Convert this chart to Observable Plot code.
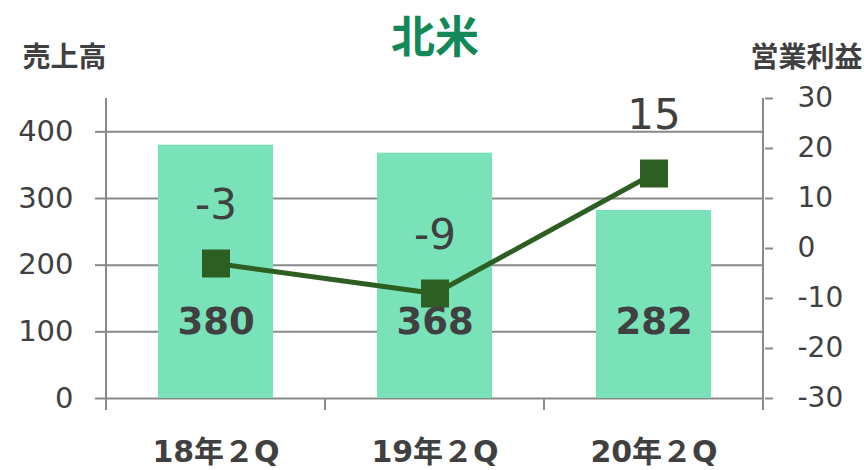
<!DOCTYPE html>
<html><head><meta charset="utf-8">
<script src="https://cdn.jsdelivr.net/npm/d3@7"></script>
<script src="https://cdn.jsdelivr.net/npm/@observablehq/plot@0.6"></script>
<style>body{margin:0;background:#fff}</style>
</head><body><div id="chart"></div>
<script>
const categories = ["18年２Q", "19年２Q", "20年２Q"];
const sales = [380, 368, 282];
const profit = [-3, -9, 15];
const leftTicks = [0, 100, 200, 300, 400];
const rightTicks = [-30, -20, -10, 0, 10, 20, 30];
const title = "北米";
const leftTitle = "売上高";
const rightTitle = "営業利益";

const L_MAX = 450, R_MIN = -30, R_MAX = 30;
const toLeft = v => (v - R_MIN) / (R_MAX - R_MIN) * L_MAX;
const fromLeft = v => Math.round(v / L_MAX * (R_MAX - R_MIN) + R_MIN);

const data = categories.map((c, i) => ({cat: c, sales: sales[i], profit: profit[i], py: toLeft(profit[i])}));

const AX = "#898989", TXT = "#404040", NUMFONT = "DejaVu Sans, Verdana, sans-serif";
const CJK = "'Noto Sans CJK JP', 'Noto Sans', sans-serif";

function axisLines(index, scales, values, dim) {
  const g = d3.create("svg:g").attr("stroke", AX).attr("stroke-width", 2);
  const x = scales.x;
  const xs = categories.map(c => x(c));
  const step = xs[1] - xs[0];
  const bounds = [...xs, xs[xs.length - 1] + step];
  const top = dim.marginTop, bottom = dim.height - dim.marginBottom;
  g.append("line").attr("x1", bounds[0]).attr("x2", bounds[0]).attr("y1", top).attr("y2", bottom);
  g.append("line").attr("x1", bounds[3]).attr("x2", bounds[3]).attr("y1", top).attr("y2", bottom);
  for (const b of bounds) g.append("line").attr("x1", b).attr("x2", b).attr("y1", bottom).attr("y2", bottom + 12);
  return g.node();
}

const chart = Plot.plot({
  width: 868, height: 470,
  marginTop: 98, marginBottom: 72, marginLeft: 105, marginRight: 104,
  style: {fontFamily: NUMFONT, background: "#fff"},
  x: {type: "band", domain: categories, padding: 0},
  y: {domain: [0, L_MAX]},
  marks: [
    Plot.gridY(leftTicks, {stroke: AX, strokeOpacity: 1, strokeWidth: 2}),
    Plot.barY(data, {x: "cat", y: "sales", fill: "#79e2b8", insetLeft: 52, insetRight: 52}),
    Plot.axisY({ticks: leftTicks, anchor: "left", tickSize: 10, tickPadding: 22, stroke: AX, strokeWidth: 2, fill: TXT, fontSize: 29, fontFamily: NUMFONT, label: null}),
    Plot.axisY({ticks: rightTicks.map(toLeft), tickFormat: fromLeft, anchor: "right", tickSize: 8, tickPadding: 25, stroke: AX, strokeWidth: 2, fill: TXT, fontSize: 28, fontFamily: NUMFONT, label: null}),
    Plot.axisX({tickSize: 0, label: null, tickFormat: () => ""}),
    axisLines,
    Plot.line(data, {x: "cat", y: "py", stroke: "#2d5f22", strokeWidth: 5}),
    Plot.dot(data, {x: "cat", y: "py", symbol: "square", r: 15.8, fill: "#2d5f22", stroke: "none"}),
    Plot.text(data, {x: "cat", y: "py", text: d => String(d.profit), dy: -58, fontSize: 42, fill: TXT, fontFamily: NUMFONT}),
    Plot.text(data, {x: "cat", frameAnchor: "bottom", lineAnchor: "middle", dy: -76, text: d => String(d.sales), fontSize: 37, fontWeight: "bold", fill: TXT, fontFamily: NUMFONT}),
    Plot.text(data, {x: "cat", frameAnchor: "bottom", lineAnchor: "middle", dy: 54, text: "cat", fontSize: 30, fontWeight: "bold", fill: TXT, fontFamily: NUMFONT + ", " + CJK}),
    Plot.text([title], {text: d => d, frameAnchor: "top", lineAnchor: "middle", dy: -60, fontSize: 44, fontWeight: "bold", fill: "#13895a", fontFamily: CJK}),
    Plot.text([leftTitle], {text: d => d, frameAnchor: "top-left", lineAnchor: "middle", textAnchor: "start", dx: -83, dy: -40, fontSize: 28, fontWeight: "bold", fill: TXT, fontFamily: CJK}),
    Plot.text([rightTitle], {text: d => d, frameAnchor: "top-right", lineAnchor: "middle", textAnchor: "end", dx: 98, dy: -40, fontSize: 28, fontWeight: "bold", fill: TXT, fontFamily: CJK})
  ]
});
document.getElementById("chart").append(chart);
</script>
</body></html>
